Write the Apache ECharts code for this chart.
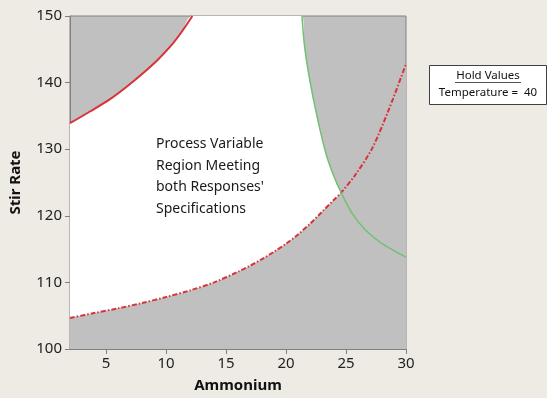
<!DOCTYPE html>
<html>
<head>
<meta charset="utf-8">
<script src="https://cdn.jsdelivr.net/npm/echarts@6/dist/echarts.min.js"></script>
<style>
  html, body { margin: 0; padding: 0; background: #eeebe4; }
  #main { width: 547px; height: 398px; }
</style>
</head>
<body>
<div id="main"></div>
<script>
// 轴刻度
var xTicks = [5, 10, 15, 20, 25, 30];
var yTicks = [100, 110, 120, 130, 140, 150];

// 左上红色实线（上限）
var redSolidX = [2, 3.7, 5.4, 6.8, 8.2, 9.3, 10.4, 11.3, 12.2];
var redSolidY = [133.9, 135.7, 137.6, 139.5, 141.6, 143.4, 145.5, 147.6, 150];

// 绿色曲线
var greenX = [21.33, 21.55, 21.97, 22.59, 23.35, 24.04, 24.59, 25.55, 26.66, 28.04, 30];
var greenY = [150, 145.4, 140.5, 134.9, 129.2, 125.7, 123.5, 120.25, 117.8, 115.8, 113.8];

// 红色虚线（下限）
var dashedX = [2, 4, 6, 8, 10, 12, 14, 16, 17, 18, 19, 20, 21, 22, 23, 24, 24.6, 25.8, 27.2, 28.6, 30];
var dashedY = [104.65, 105.4, 106.1, 106.9, 107.8, 108.8, 110.0, 111.6, 112.5, 113.5, 114.6, 115.8, 117.2, 118.8, 120.6, 122.4, 123.5, 126.2, 130.2, 136.1, 142.8];

var noteLines = ['Process Variable', 'Region Meeting', "both Responses'", 'Specifications'];
var holdTitle = 'Hold Values';
var holdText = 'Temperature =  40';

function pairs(xs, ys) {
    return xs.map(function (x, i) { return [x, ys[i]]; });
}

var redSolid = pairs(redSolidX, redSolidY);
var green = pairs(greenX, greenY);
var dashed = pairs(dashedX, dashedY);
// 白色可行区域上边界
var upper = redSolid.concat(green);

var font = 'Noto Sans';
var myChart = echarts.init(document.getElementById('main'));

var option = {
    backgroundColor: '#eeebe4',
    animation: false,
    grid: {
        left: 69, right: 141, top: 16, bottom: 45,
        show: true,
        backgroundColor: '#c0c0c0',
        borderColor: '#808080',
        borderWidth: 1
    },
    xAxis: {
        type: 'value',
        min: 2, max: 30,
        name: 'Ammonium',
        nameLocation: 'middle',
        nameGap: 29,
        nameTextStyle: { fontFamily: font, fontWeight: 'bold', fontSize: 15, color: '#111' },
        axisLine: { lineStyle: { color: '#808080', width: 1 } },
        axisTick: { length: 5, lineStyle: { color: '#808080' }, customValues: xTicks },
        axisLabel: { customValues: xTicks, margin: 7, fontFamily: font, fontSize: 15, color: '#222' },
        splitLine: { show: false }
    },
    yAxis: {
        type: 'value',
        min: 100, max: 150, interval: 10,
        name: 'Stir Rate',
        nameLocation: 'middle',
        nameGap: 47,
        nameTextStyle: { fontFamily: font, fontWeight: 'bold', fontSize: 15, color: '#111' },
        axisLine: { show: true, lineStyle: { color: '#808080', width: 1 } },
        axisTick: { show: true, length: 5, lineStyle: { color: '#808080' }, customValues: yTicks },
        axisLabel: { customValues: yTicks, margin: 8, fontFamily: font, fontSize: 15, color: '#222' },
        splitLine: { show: false }
    },
    series: [
        {
            type: 'line',
            data: upper,
            symbol: 'none',
            smooth: 0.3,
            lineStyle: { width: 0, opacity: 0 },
            areaStyle: { color: '#ffffff', opacity: 1 }
        },
        {
            type: 'line',
            data: dashed,
            symbol: 'none',
            smooth: 0.3,
            lineStyle: { color: '#d8323a', width: 2, type: [5, 2, 1.5, 2] },
            areaStyle: { color: '#c0c0c0', opacity: 1 }
        },
        {
            type: 'line',
            data: redSolid,
            symbol: 'none',
            smooth: 0.3,
            lineStyle: { color: '#d8323a', width: 2 }
        },
        {
            type: 'line',
            data: green,
            symbol: 'none',
            smooth: 0.3,
            lineStyle: { color: '#72c072', width: 1.5 }
        }
    ],
    graphic: [
        {
            type: 'text',
            left: 156, top: 133, z: 100,
            style: {
                text: noteLines.join('\n'),
                fontFamily: font, fontSize: 14, lineHeight: 21.7,
                fill: '#1a1a1a'
            }
        },
        {
            type: 'rect',
            left: 429, top: 65, z: 100,
            shape: { width: 117, height: 39 },
            style: { fill: '#ffffff', stroke: '#404040', lineWidth: 1 }
        },
        {
            type: 'text',
            x: 488, y: 76, z: 101,
            style: {
                text: holdTitle, align: 'center', verticalAlign: 'middle',
                fontFamily: font, fontSize: 11.5, fill: '#111'
            }
        },
        {
            type: 'line',
            z: 101,
            shape: { x1: 455, y1: 82.5, x2: 521, y2: 82.5 },
            style: { stroke: '#555', lineWidth: 1 }
        },
        {
            type: 'text',
            x: 488, y: 93, z: 101,
            style: {
                text: holdText, align: 'center', verticalAlign: 'middle',
                fontFamily: font, fontSize: 11.5, fill: '#111'
            }
        }
    ]
};

myChart.setOption(option);
</script>
</body>
</html>
